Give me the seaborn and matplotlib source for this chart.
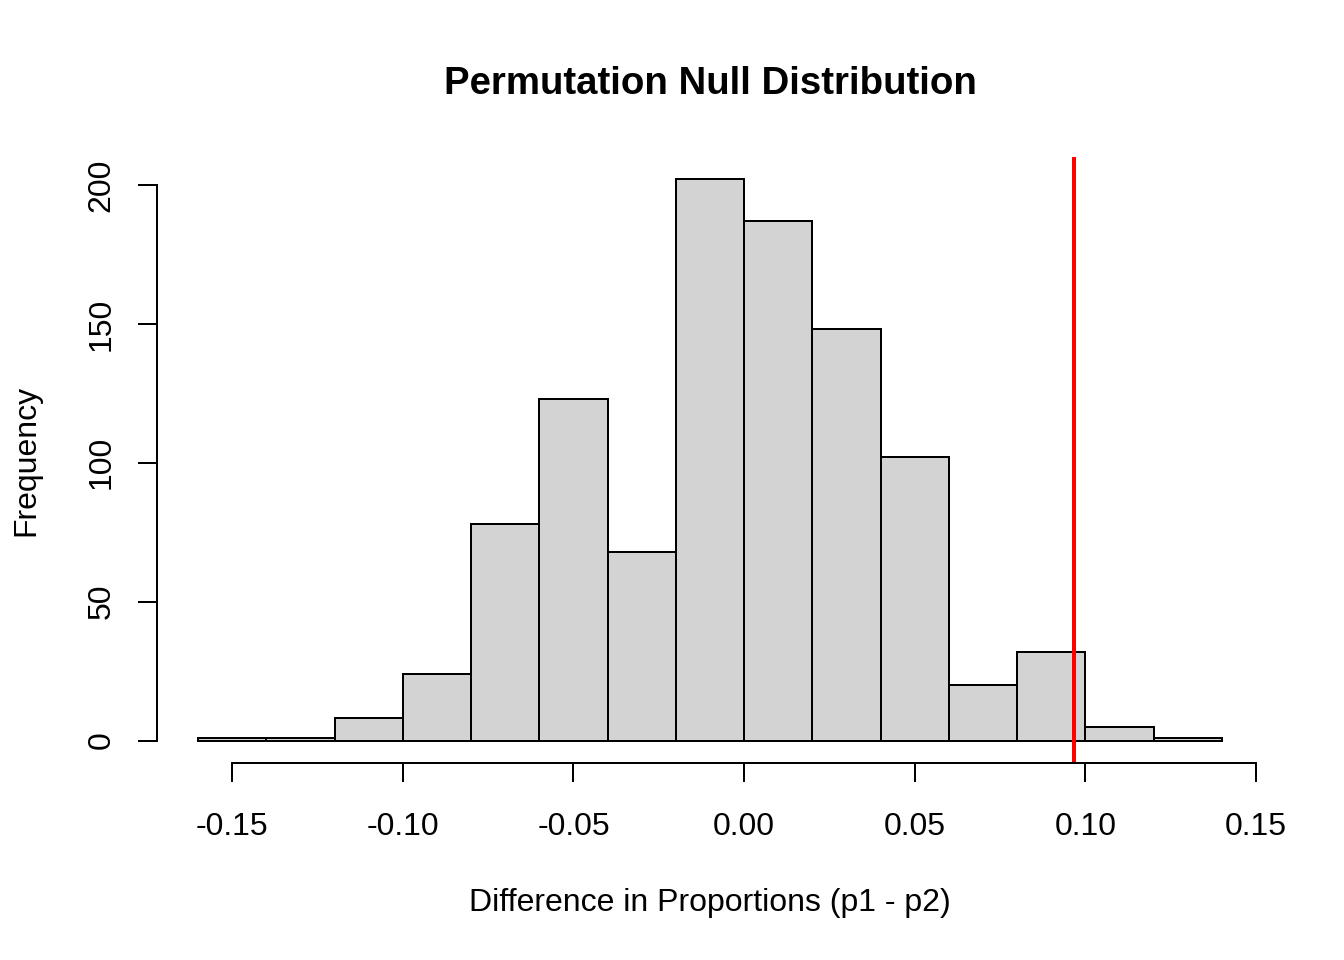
import matplotlib
matplotlib.use("Agg")
import matplotlib.pyplot as plt
import numpy as np
import seaborn as sns

# Histogram (bin width 0.02)
BIN_EDGES = [-0.16, -0.14, -0.12, -0.10, -0.08, -0.06, -0.04, -0.02,
             0.00, 0.02, 0.04, 0.06, 0.08, 0.10, 0.12, 0.14]
COUNTS = [1, 1, 8, 24, 78, 123, 68, 202, 187, 148, 102, 20, 32, 5, 1]
OBSERVED_DIFF = 0.0965
X_TICKS = [-0.15, -0.10, -0.05, 0.00, 0.05, 0.10, 0.15]
Y_TICKS = [0, 50, 100, 150, 200]

sns.set_style("white")
plt.rcParams["font.family"] = ["Liberation Sans", "DejaVu Sans"]
plt.rcParams["text.color"] = "black"
plt.rcParams["axes.labelcolor"] = "black"
plt.rcParams["xtick.color"] = "black"
plt.rcParams["ytick.color"] = "black"

centers = [(a + b) / 2 for a, b in zip(BIN_EDGES[:-1], BIN_EDGES[1:])]

fig = plt.figure(figsize=(7, 5), dpi=192)
ax = fig.add_axes([157 / 1344, 1 - 763 / 960, (1263 - 157) / 1344, (763 - 157) / 960])

sns.histplot(x=centers, weights=COUNTS, bins=BIN_EDGES, ax=ax,
             color="#D3D3D3", edgecolor="black", linewidth=0.75, alpha=1)
ax.axvline(OBSERVED_DIFF, color="red", linewidth=1.5)

lo, hi = BIN_EDGES[0], BIN_EDGES[-1]
pad = 0.04 * (hi - lo)
ax.set_xlim(lo - pad, hi + pad)
ymax = max(COUNTS)
ax.set_ylim(-0.04 * ymax, ymax * 1.04)

# R-style axes: detached lines spanning first to last tick
for s in ["top", "right"]:
    ax.spines[s].set_visible(False)
ax.spines["left"].set_bounds(Y_TICKS[0], Y_TICKS[-1])
ax.spines["bottom"].set_bounds(X_TICKS[0], X_TICKS[-1])
for s in ["left", "bottom"]:
    ax.spines[s].set_linewidth(0.75)
    ax.spines[s].set_color("black")

ax.set_xticks(X_TICKS)
ax.set_xticklabels([f"{t:.2f}" for t in X_TICKS])
ax.set_yticks(Y_TICKS)
ax.set_yticklabels([str(t) for t in Y_TICKS], rotation=90, va="center")
ax.tick_params(axis="both", direction="out", length=7.2, width=0.75,
               color="black", labelcolor="black", labelsize=12,
               left=True, bottom=True)
ax.tick_params(axis="x", pad=11)
ax.tick_params(axis="y", pad=8)

ax.set_xlabel("Difference in Proportions (p1 - p2)", fontsize=12, labelpad=17.5)
ax.set_ylabel("Frequency", fontsize=12, labelpad=17)
ax.set_title("Permutation Null Distribution", fontsize=14.4, fontweight="bold",
             pad=23.5, color="black")

fig.savefig("out.png", dpi=192)
